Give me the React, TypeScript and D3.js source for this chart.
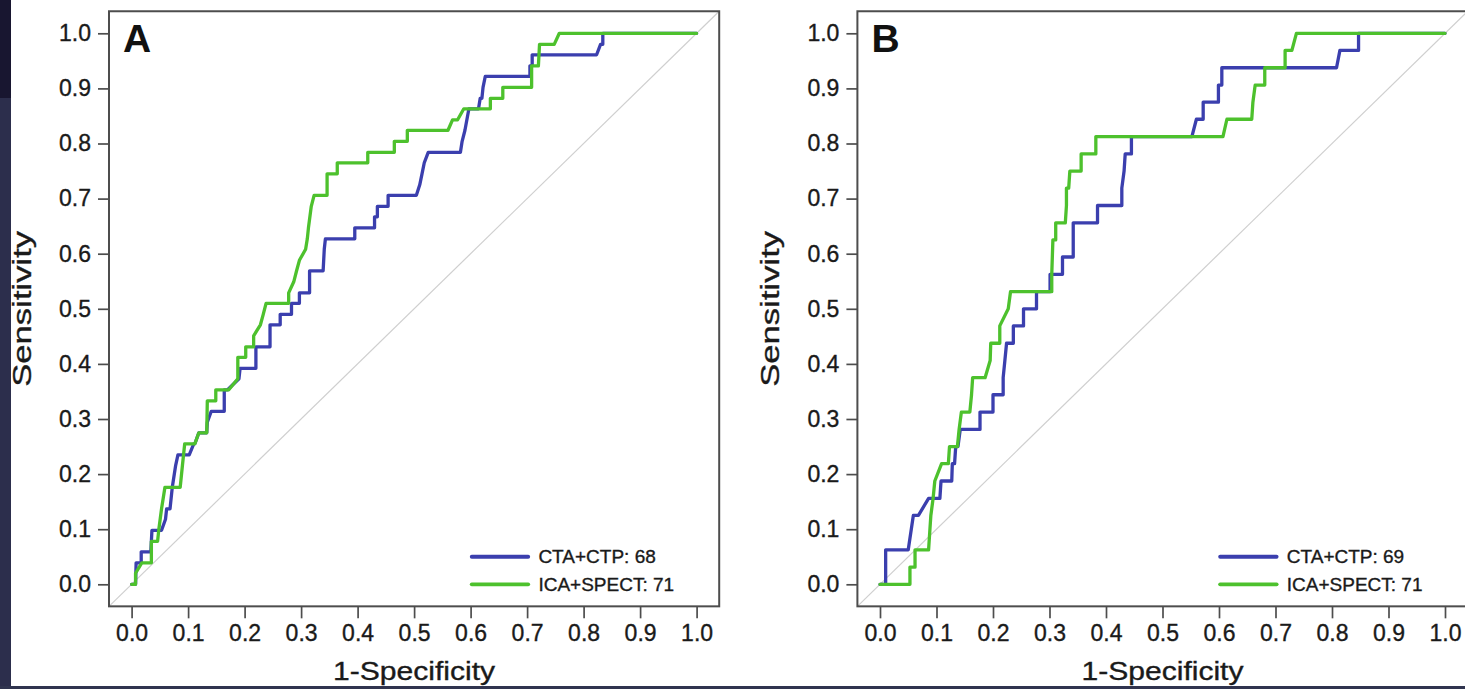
import React, { useEffect, useRef } from "react";
import * as d3 from "d3";

// ROC points: [1-specificity, sensitivity]
const ctaA: [number, number][] = [
  [0, 0], [0.007, 0], [0.008, 0.039], [0.017, 0.039], [0.017, 0.059], [0.034, 0.059],
  [0.036, 0.098], [0.053, 0.098], [0.06, 0.118], [0.062, 0.137], [0.068, 0.137],
  [0.072, 0.176], [0.078, 0.216], [0.082, 0.235], [0.102, 0.235], [0.11, 0.255],
  [0.112, 0.255], [0.119, 0.275], [0.133, 0.275], [0.134, 0.294], [0.141, 0.314],
  [0.164, 0.314], [0.164, 0.353], [0.17, 0.353], [0.19, 0.373], [0.192, 0.392],
  [0.22, 0.392], [0.22, 0.431], [0.245, 0.431], [0.245, 0.471], [0.263, 0.471],
  [0.263, 0.49], [0.283, 0.49], [0.283, 0.51], [0.297, 0.51], [0.297, 0.529],
  [0.315, 0.529], [0.315, 0.569], [0.339, 0.569], [0.341, 0.608], [0.343, 0.627],
  [0.395, 0.627], [0.395, 0.647], [0.43, 0.647], [0.43, 0.667], [0.435, 0.667],
  [0.435, 0.686], [0.454, 0.686], [0.454, 0.706], [0.504, 0.706], [0.51, 0.725],
  [0.514, 0.745], [0.518, 0.765], [0.525, 0.784], [0.582, 0.784], [0.585, 0.804],
  [0.59, 0.824], [0.597, 0.863], [0.614, 0.863], [0.617, 0.882], [0.62, 0.882],
  [0.622, 0.902], [0.626, 0.922], [0.705, 0.922], [0.705, 0.941], [0.709, 0.941],
  [0.709, 0.961], [0.823, 0.961], [0.83, 0.98], [0.834, 0.98], [0.834, 1], [1, 1],
];

const icaA: [number, number][] = [
  [0, 0], [0.007, 0], [0.007, 0.02], [0.018, 0.039], [0.035, 0.039], [0.035, 0.078],
  [0.046, 0.078], [0.048, 0.098], [0.053, 0.137], [0.059, 0.176], [0.086, 0.176],
  [0.09, 0.216], [0.094, 0.255], [0.112, 0.255], [0.119, 0.275], [0.133, 0.275],
  [0.134, 0.333], [0.149, 0.333], [0.149, 0.353], [0.172, 0.353], [0.188, 0.373],
  [0.188, 0.412], [0.202, 0.412], [0.202, 0.431], [0.216, 0.431], [0.216, 0.451],
  [0.228, 0.471], [0.233, 0.49], [0.238, 0.51], [0.278, 0.51], [0.278, 0.529],
  [0.287, 0.549], [0.292, 0.569], [0.297, 0.588], [0.308, 0.608], [0.311, 0.627],
  [0.313, 0.647], [0.318, 0.686], [0.323, 0.706], [0.346, 0.706], [0.346, 0.745],
  [0.364, 0.745], [0.364, 0.765], [0.418, 0.765], [0.418, 0.784], [0.465, 0.784],
  [0.465, 0.804], [0.488, 0.804], [0.488, 0.824], [0.56, 0.824], [0.568, 0.843],
  [0.577, 0.843], [0.588, 0.863], [0.635, 0.863], [0.635, 0.882], [0.657, 0.882],
  [0.657, 0.902], [0.708, 0.902], [0.708, 0.941], [0.72, 0.941], [0.722, 0.98],
  [0.748, 0.98], [0.757, 1], [1, 1],
];

const ctaB: [number, number][] = [
  [0, 0], [0.01, 0], [0.01, 0.0625], [0.05, 0.0625], [0.059, 0.125], [0.068, 0.125],
  [0.086, 0.156], [0.106, 0.156], [0.108, 0.1875], [0.127, 0.1875], [0.128, 0.219],
  [0.132, 0.219], [0.134, 0.25], [0.138, 0.25], [0.142, 0.281], [0.177, 0.281],
  [0.177, 0.3125], [0.2, 0.3125], [0.2, 0.344], [0.218, 0.344], [0.218, 0.375],
  [0.221, 0.406], [0.224, 0.4375], [0.236, 0.4375], [0.236, 0.469], [0.254, 0.469],
  [0.254, 0.5], [0.277, 0.5], [0.277, 0.531], [0.301, 0.531], [0.301, 0.5625],
  [0.323, 0.5625], [0.323, 0.594], [0.342, 0.594], [0.342, 0.656], [0.385, 0.656],
  [0.385, 0.6875], [0.428, 0.6875], [0.428, 0.719], [0.432, 0.75], [0.434, 0.781],
  [0.445, 0.781], [0.445, 0.8125], [0.552, 0.8125], [0.56, 0.844], [0.572, 0.844],
  [0.572, 0.875], [0.599, 0.875], [0.599, 0.906], [0.605, 0.906], [0.605, 0.9375],
  [0.808, 0.9375], [0.814, 0.969], [0.847, 0.969], [0.847, 1], [1, 1],
];

const icaB: [number, number][] = [
  [0, 0], [0.053, 0], [0.053, 0.031], [0.062, 0.031], [0.062, 0.0625], [0.086, 0.0625],
  [0.088, 0.094], [0.09, 0.125], [0.094, 0.156], [0.097, 0.1875], [0.109, 0.219],
  [0.121, 0.219], [0.123, 0.25], [0.137, 0.25], [0.14, 0.281], [0.144, 0.3125],
  [0.159, 0.3125], [0.162, 0.344], [0.164, 0.375], [0.186, 0.375], [0.195, 0.406],
  [0.196, 0.4375], [0.212, 0.4375], [0.212, 0.469], [0.227, 0.5], [0.231, 0.531],
  [0.304, 0.531], [0.304, 0.5625], [0.306, 0.625], [0.311, 0.625], [0.311, 0.656],
  [0.328, 0.656], [0.33, 0.6875], [0.33, 0.719], [0.334, 0.719], [0.336, 0.75],
  [0.356, 0.75], [0.356, 0.781], [0.382, 0.781], [0.382, 0.8125], [0.607, 0.8125],
  [0.614, 0.844], [0.658, 0.844], [0.66, 0.875], [0.664, 0.906], [0.681, 0.906],
  [0.681, 0.9375], [0.717, 0.9375], [0.717, 0.969], [0.729, 0.969], [0.737, 1], [1, 1],
];

const tickValues = [0, 0.1, 0.2, 0.3, 0.4, 0.5, 0.6, 0.7, 0.8, 0.9, 1.0];
const panelLabels = ["A", "B"];
const legendA = ["CTA+CTP: 68", "ICA+SPECT: 71"];
const legendB = ["CTA+CTP: 69", "ICA+SPECT: 71"];

const BLUE = "#3b3fae";
const GREEN = "#4dc12d";
const INK = "#1a1a1a";
const FONT = "'Liberation Sans', Arial, Helvetica, sans-serif";

// slightly heavier text, the scan's type looks thick
const ink = (sel) => sel.attr("fill", INK).attr("stroke", INK).attr("stroke-width", 0.35);

const drawPanel = (svg, x0, label, cta, ica, legend) => {
  const x = d3.scaleLinear().domain([0, 1]).range([x0, x0 + 565]);
  const y = d3.scaleLinear().domain([0, 1]).range([584.3, 33.3]);
  const g = svg.append("g");

  // diagonal reference
  g.append("line")
    .attr("x1", x(-0.04)).attr("y1", y(-0.04))
    .attr("x2", x(1.04)).attr("y2", y(1.04))
    .attr("stroke", "#cfcfcf").attr("stroke-width", 1.2);

  const line = d3.line().x((d) => x(d[0])).y((d) => y(d[1]));
  [[cta, BLUE], [ica, GREEN]].forEach(([pts, col]) => {
    g.append("path")
      .datum(pts)
      .attr("d", line)
      .attr("fill", "none")
      .attr("stroke", col)
      .attr("stroke-width", 3.3)
      .attr("stroke-linejoin", "round")
      .attr("stroke-linecap", "round");
  });

  // frame
  g.append("rect")
    .attr("x", x(-0.04)).attr("y", y(1.04))
    .attr("width", x(1.04) - x(-0.04)).attr("height", y(-0.04) - y(1.04))
    .attr("fill", "none").attr("stroke", "#4d4d4d").attr("stroke-width", 2);

  const xAxis = g.append("g")
    .attr("transform", `translate(0,${y(-0.04)})`)
    .call(d3.axisBottom(x).tickValues(tickValues).tickFormat(d3.format(".1f")).tickSize(12).tickPadding(6));
  const yAxis = g.append("g")
    .attr("transform", `translate(${x(-0.04)},0)`)
    .call(d3.axisLeft(y).tickValues(tickValues).tickFormat(d3.format(".1f")).tickSize(11).tickPadding(7));
  [xAxis, yAxis].forEach((ax) => {
    ax.select(".domain").remove();
    ax.selectAll(".tick line").attr("stroke", "#4d4d4d").attr("stroke-width", 1.7);
    ax.selectAll(".tick text")
      .attr("font-size", 23).attr("font-family", FONT)
      .call(ink);
  });

  g.append("text")
    .attr("x", x(0.5)).attr("y", 680)
    .attr("text-anchor", "middle")
    .attr("font-size", 26).attr("font-family", FONT)
    .attr("textLength", 162).attr("lengthAdjust", "spacingAndGlyphs")
    .text("1-Specificity")
    .call(ink);

  g.append("text")
    .attr("transform", `translate(${x(-0.04) - 78},${y(0.5)}) rotate(-90)`)
    .attr("text-anchor", "middle")
    .attr("font-size", 26).attr("font-family", FONT)
    .attr("textLength", 156).attr("lengthAdjust", "spacingAndGlyphs")
    .text("Sensitivity")
    .call(ink);

  g.append("text")
    .attr("x", x(-0.04) + 14).attr("y", 52)
    .attr("font-size", 39).attr("font-weight", "bold").attr("font-family", FONT)
    .attr("fill", "#111")
    .text(label);

  // legend
  [BLUE, GREEN].forEach((col, i) => {
    const ly = y(0.05 - i * 0.05);
    g.append("line")
      .attr("x1", x(0.602)).attr("x2", x(0.702))
      .attr("y1", ly).attr("y2", ly)
      .attr("stroke", col).attr("stroke-width", 3.8).attr("stroke-linecap", "round");
    g.append("text")
      .attr("x", x(0.72)).attr("y", ly)
      .attr("dy", "0.35em")
      .attr("font-size", 19).attr("font-family", FONT)
      .text(legend[i])
      .call(ink);
  });
};

const App = () => {
  const ref = useRef(null);

  useEffect(() => {
    const svg = d3.select(ref.current);
    svg.selectAll("*").remove();

    svg.append("rect").attr("width", 1465).attr("height", 689).attr("fill", "#fff");
    // dark page edges from the source scan
    svg.append("rect").attr("x", 0).attr("y", 0).attr("width", 11).attr("height", 98).attr("fill", "#181630");
    svg.append("rect").attr("x", 0).attr("y", 98).attr("width", 11).attr("height", 591).attr("fill", "#2c2e4c");
    svg.append("rect").attr("x", 0).attr("y", 686).attr("width", 1465).attr("height", 3).attr("fill", "#30344f");

    drawPanel(svg, 131.6, panelLabels[0], ctaA, icaA, legendA);
    drawPanel(svg, 880, panelLabels[1], ctaB, icaB, legendB);
  }, []);

  return (
    <svg
      ref={ref}
      width={1465}
      height={689}
      style={{ position: "absolute", left: 0, top: 0, display: "block" }}
    />
  );
};

export default App;
